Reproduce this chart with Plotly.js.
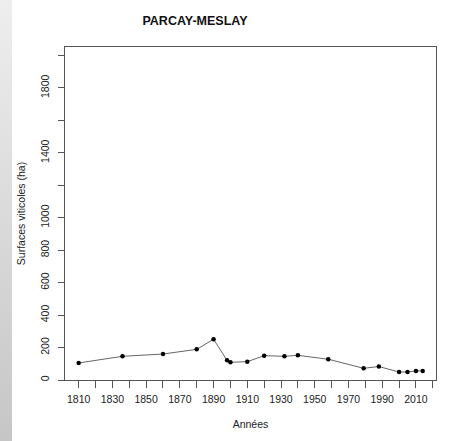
<!DOCTYPE html>
<html>
<head>
<meta charset="utf-8">
<script src="https://cdn.plot.ly/plotly-3.0.1.min.js"></script>
<style>
  html, body { margin: 0; padding: 0; background: #ffffff; }
  #wrap { position: relative; width: 454px; height: 441px; }
  #strip { position: absolute; left: 0; top: 0; width: 12px; height: 441px;
           background: linear-gradient(to bottom, #eeeeee, #c6c6c6); }
  #chart { position: absolute; left: 0; top: 0; width: 454px; height: 441px; }
</style>
</head>
<body>
<div id="wrap"><div id="strip"></div><div id="chart"></div></div>
<script>
// Data
const years  = [1810, 1836, 1860, 1880, 1890, 1898, 1900, 1910, 1920, 1932, 1940, 1958, 1979, 1988, 2000, 2005, 2010, 2014];
const surfaces = [105, 146, 160, 189, 251, 121, 109, 113, 150, 146, 152, 128, 72, 83, 49, 50, 56, 56];

const xTickVals = [1810, 1820, 1830, 1840, 1850, 1860, 1870, 1880, 1890, 1900, 1910, 1920, 1930, 1940, 1950, 1960, 1970, 1980, 1990, 2000, 2010, 2020];
const xTickText = ["1810", "", "1830", "", "1850", "", "1870", "", "1890", "", "1910", "", "1930", "", "1950", "", "1970", "", "1990", "", "2010", ""];
const yTickVals = [0, 200, 400, 600, 800, 1000, 1200, 1400, 1600, 1800, 2000];
const yTickText = ["0", "200", "400", "600", "800", "1000", "", "1400", "", "1800", ""];

const titleText = "PARCAY-MESLAY";
const xTitle = "Années";
const yTitle = "Surfaces viticoles (ha)";

const FONT = "Liberation Sans, Arial, Helvetica, sans-serif";

const trace = {
  x: years,
  y: surfaces,
  type: "scatter",
  mode: "lines+markers",
  line: { color: "#666666", width: 1 },
  marker: { color: "#000000", size: 4.5 },
  hoverinfo: "x+y"
};

const layout = {
  width: 454,
  height: 441,
  margin: { l: 65, r: 18, t: 47, b: 61, pad: 0 },
  paper_bgcolor: "rgba(0,0,0,0)",
  plot_bgcolor: "#ffffff",
  showlegend: false,
  font: { family: FONT, size: 10.5, color: "#222222" },
  title: {
    text: "<b>" + titleText + "</b>",
    font: { family: FONT, size: 12.5, color: "#111111" },
    xref: "container", x: 195 / 454, xanchor: "center",
    yref: "container", y: 1 - 21 / 441, yanchor: "middle"
  },
  xaxis: {
    range: [1801.9, 2021.9],
    tickvals: xTickVals,
    ticktext: xTickText,
    ticks: "outside",
    ticklen: 6.5,
    tickwidth: 1,
    tickcolor: "#555555",
    showline: true,
    mirror: true,
    linecolor: "#555555",
    linewidth: 1,
    showgrid: false,
    zeroline: false,
    tickfont: { family: FONT, size: 10.5, color: "#222222" },
    ticklabelstandoff: 3,
    title: { text: xTitle, font: { family: FONT, size: 10.5, color: "#222222" }, standoff: 16 },
    automargin: false
  },
  yaxis: {
    range: [0, 2052],
    tickvals: yTickVals,
    ticktext: yTickText,
    ticks: "outside",
    ticklen: 6.5,
    tickwidth: 1,
    tickcolor: "#555555",
    tickangle: -90,
    showline: true,
    mirror: true,
    linecolor: "#555555",
    linewidth: 1,
    showgrid: false,
    zeroline: false,
    tickfont: { family: FONT, size: 10.5, color: "#222222" },
    ticklabelstandoff: 4,
    title: { text: yTitle, font: { family: FONT, size: 10.5, color: "#222222" }, standoff: 11 },
    automargin: false
  }
};

Plotly.newPlot("chart", [trace], layout, { displayModeBar: false, staticPlot: true });
</script>
</body>
</html>
